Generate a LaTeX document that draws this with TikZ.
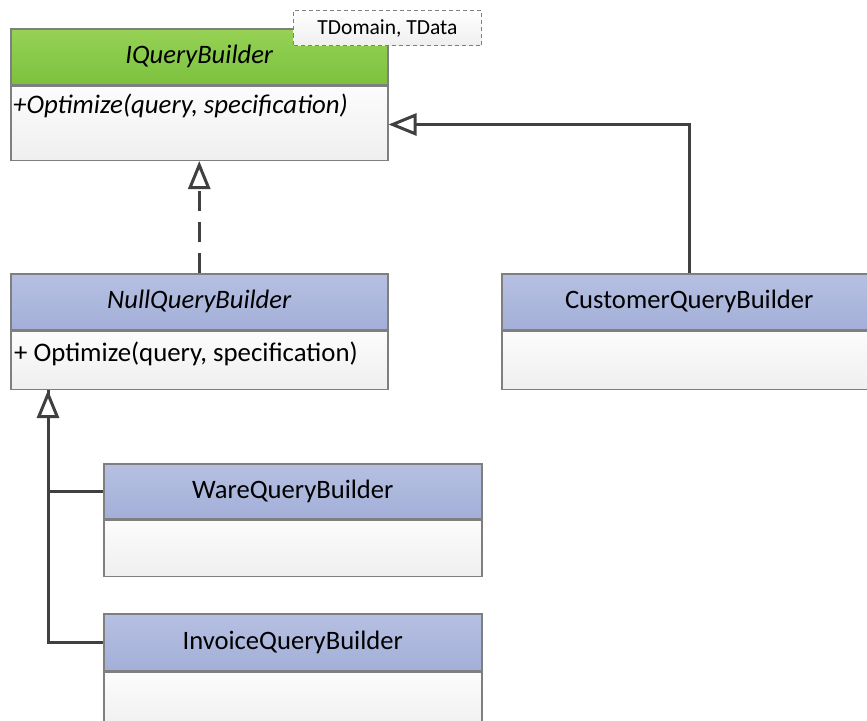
\documentclass[tikz,border=0pt]{standalone}
\usepackage{fontspec}
\setmainfont{Carlito}
\usetikzlibrary{arrows.meta,calc}

\definecolor{boxline}{HTML}{7F7F7F}
\definecolor{connline}{HTML}{404040}
\definecolor{greentop}{HTML}{96D255}
\definecolor{greenbot}{HTML}{7CC13E}
\definecolor{bluetop}{HTML}{B6C0E2}
\definecolor{bluebot}{HTML}{A3AFD8}
\definecolor{bodytop}{HTML}{FCFCFC}
\definecolor{bodybot}{HTML}{EFEFEF}

\tikzset{
  classhead/.style={draw=boxline, line width=1.5pt, anchor=north west,
    inner sep=0pt, minimum height=56pt,
    font=\fontsize{26.6}{31}\selectfont},
  ifacehead/.style={classhead, top color=greentop, bottom color=greenbot},
  implhead/.style={classhead, top color=bluetop, bottom color=bluebot},
  classbody/.style={draw=boxline, line width=1.5pt, anchor=north west,
    inner sep=0pt, top color=bodytop, bottom color=bodybot},
  member/.style={anchor=west, inner sep=0pt,
    font=\fontsize{26.8}{31}\selectfont},
  tparam/.style={draw=boxline, dash pattern=on 4pt off 3pt, line width=1pt,
    anchor=north west, inner sep=0pt, top color=white, bottom color=bodybot,
    font=\fontsize{21.5}{25}\selectfont},
  inherit/.style={draw=connline, line width=3pt,
    -{Triangle[open, length=28pt, width=22pt, fill=white]}},
  realize/.style={inherit, dash pattern=on 20pt off 11pt},
  plainlink/.style={draw=connline, line width=3pt},
}

\begin{document}
\begin{tikzpicture}[x=1pt, y=-1pt]
  \useasboundingbox (0,0) rectangle (867,720);

  % generic interface
  \node[ifacehead, minimum width=377pt] (iqbh) at (10,28) {\itshape IQueryBuilder};
  \node[classbody, minimum width=377pt, minimum height=74pt] (iqbb) at (iqbh.south west) {};
  \node[member] (iqbop) at ($(iqbb.north west)+(3,20)$) {\itshape +Optimize(query, specification)};
  \node[tparam, minimum width=188pt, minimum height=35pt] (iqbt) at (293,10) {TDomain, TData};

  % null implementation
  \node[implhead, minimum width=377pt] (nqbh) at (10,273) {\itshape NullQueryBuilder};
  \node[classbody, minimum width=377pt, minimum height=58pt] (nqbb) at (nqbh.south west) {};
  \node[member] (nqbop) at ($(nqbb.north west)+(4,23)$) {+ Optimize(query, specification)};

  % customer implementation
  \node[implhead, minimum width=375pt] (cqbh) at (501,273) {CustomerQueryBuilder};
  \node[classbody, minimum width=375pt, minimum height=58pt] (cqbb) at (cqbh.south west) {};

  % subclasses of the null builder
  \node[implhead, minimum width=378pt, minimum height=55pt] (wqbh) at (103,463) {WareQueryBuilder};
  \node[classbody, minimum width=378pt, minimum height=56pt] (wqbb) at (wqbh.south west) {};
  \node[implhead, minimum width=378pt, minimum height=57pt] (vqbh) at (103,613) {InvoiceQueryBuilder};
  \node[classbody, minimum width=378pt, minimum height=58pt] (vqbb) at (vqbh.south west) {};

  % relations
  \draw[realize] (nqbh.north) -- (iqbb.south);
  \draw[inherit] (cqbh.north) |- ($(iqbb.north east)+(0,39)$);
  \coordinate (trunk) at ($(nqbb.south west)+(38,0)$);
  \draw[plainlink] (wqbh.west) -| (trunk);
  \draw[inherit] (vqbh.west) -| (trunk);
\end{tikzpicture}
\end{document}
